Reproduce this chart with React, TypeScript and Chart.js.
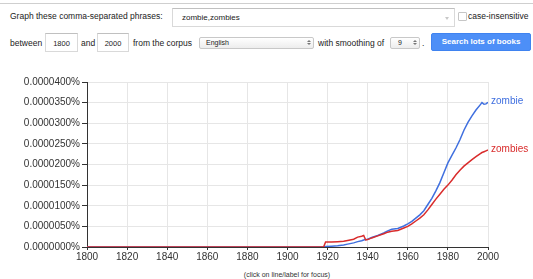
import React, { useEffect, useRef } from "react";
import { Chart, registerables } from "chart.js";

Chart.register(...registerables);

const years = [1800, 1918, 1919, 1922, 1925, 1928, 1930, 1933, 1935, 1937, 1938, 1939, 1940, 1942, 1945, 1948, 1950, 1952, 1955, 1958, 1960, 1962, 1964, 1966, 1968, 1970, 1972, 1974, 1976, 1978, 1980, 1982, 1984, 1986, 1988, 1990, 1992, 1994, 1996, 1997, 1998, 1999, 2000];

const zombieValues = [0, 0, 0.0000001, 0.0000002, 0.0000003, 0.0000005, 0.0000007, 0.000001, 0.0000013, 0.0000015, 0.0000017, 0.0000018, 0.0000019, 0.0000023, 0.0000028, 0.0000034, 0.0000039, 0.0000043, 0.0000045, 0.0000051, 0.0000056, 0.0000062, 0.000007, 0.0000078, 0.0000088, 0.0000103, 0.0000118, 0.0000136, 0.0000156, 0.000018, 0.0000204, 0.0000222, 0.000024, 0.000026, 0.0000283, 0.0000302, 0.0000318, 0.0000332, 0.0000344, 0.000035, 0.0000346, 0.0000347, 0.0000351];

const zombiesValues = [0, 0, 0.0000012, 0.0000012, 0.0000013, 0.0000014, 0.0000016, 0.0000019, 0.0000024, 0.0000026, 0.0000028, 0.0000017, 0.0000018, 0.0000022, 0.0000027, 0.0000032, 0.0000036, 0.0000038, 0.000004, 0.0000046, 0.000005, 0.0000056, 0.0000063, 0.000007, 0.0000078, 0.000009, 0.0000103, 0.0000116, 0.0000128, 0.000014, 0.000015, 0.0000162, 0.0000175, 0.0000186, 0.0000196, 0.0000204, 0.0000212, 0.0000219, 0.0000226, 0.0000229, 0.0000231, 0.0000233, 0.0000235];

const seriesNames = ["zombie", "zombies"];
const seriesColors = ["#3f6fdf", "#d92c2c"];

const yMax = 0.00004;
const yStep = 0.000005;
const xMin = 1800;
const xMax = 2000;
const xStep = 20;

const FONT = "'Liberation Sans', Arial, Helvetica, sans-serif";

const endLabels = {
  id: "endLabels",
  afterDatasetsDraw(chart: any) {
    const ctx = chart.ctx;
    ctx.save();
    ctx.font = `10px ${FONT}`;
    ctx.textBaseline = "middle";
    ctx.textAlign = "left";
    chart.data.datasets.forEach((ds: any, i: number) => {
      const meta = chart.getDatasetMeta(i);
      const last = meta.data[meta.data.length - 1];
      if (!last) return;
      ctx.fillStyle = ds.borderColor;
      ctx.fillText(ds.label, last.x + 3, last.y - 1);
    });
    ctx.restore();
  },
};

function ChartCanvas() {
  const ref = useRef<HTMLCanvasElement>(null);
  useEffect(() => {
    if (!ref.current) return;
    const mk = (vals: number[]) => years.map((y, i) => ({ x: y, y: vals[i] }));
    const chart = new Chart(ref.current, {
      type: "line",
      data: {
        datasets: [
          {
            label: seriesNames[0],
            data: mk(zombieValues),
            borderColor: seriesColors[0],
            backgroundColor: seriesColors[0],
            borderWidth: 1.5,
            pointRadius: 0,
            tension: 0,
            order: 1,
          },
          {
            label: seriesNames[1],
            data: mk(zombiesValues),
            borderColor: seriesColors[1],
            backgroundColor: seriesColors[1],
            borderWidth: 1.5,
            pointRadius: 0,
            tension: 0,
            order: 0,
          },
        ],
      },
      options: {
        animation: false,
        responsive: false,
        devicePixelRatio: 1,
        layout: { padding: { top: 22, right: 45, left: 0, bottom: 0 } },
        plugins: { legend: { display: false }, tooltip: { enabled: false } },
        scales: {
          x: {
            type: "linear",
            min: xMin,
            max: xMax,
            afterFit: (s: any) => {
              s.height = 13;
            },
            ticks: {
              stepSize: xStep,
              color: "#333",
              font: { family: FONT, size: 10 },
              padding: 1,
              maxRotation: 0,
              callback: (v: any) => String(v),
            },
            grid: { color: "#e6e6e6", tickColor: "#333", tickLength: 3, lineWidth: 1 },
            border: { color: "#333", width: 1 },
          },
          y: {
            min: 0,
            max: yMax,
            afterFit: (s: any) => {
              s.width = 87;
            },
            ticks: {
              stepSize: yStep,
              color: "#333",
              font: { family: FONT, size: 10 },
              padding: 2,
              callback: (v: any) => Number(v).toFixed(7) + "%",
            },
            grid: { color: "#e6e6e6", tickColor: "#333", tickLength: 5, lineWidth: 1 },
            border: { color: "#333", width: 1 },
          },
        },
      },
      plugins: [endLabels],
    } as any);
    return () => chart.destroy();
  }, []);
  return <canvas ref={ref} width={533} height={200} style={{ position: "absolute", left: 0, top: 60, width: 533, height: 200 }} />;
}

const txt = (left: number, top: number, s: string, extra: any = {}) => (
  <div style={{ position: "absolute", left, top, fontSize: 8.5, lineHeight: "12px", color: "#222", whiteSpace: "nowrap", ...extra }}>{s}</div>
);

function Arrows({ left, top }: { left: number; top: number }) {
  return (
    <div style={{ position: "absolute", left, top }}>
      <div style={{ width: 0, height: 0, borderLeft: "2px solid transparent", borderRight: "2px solid transparent", borderBottom: "2px solid #777", marginBottom: 1 }} />
      <div style={{ width: 0, height: 0, borderLeft: "2px solid transparent", borderRight: "2px solid transparent", borderTop: "2px solid #777" }} />
    </div>
  );
}

export default function App() {
  const inputStyle: any = {
    position: "absolute",
    boxSizing: "border-box",
    border: "1px solid #d9d9d9",
    borderTop: "1px solid #c0c0c0",
    background: "#fff",
    fontSize: 8,
    color: "#222",
  };
  const selectStyle: any = {
    position: "absolute",
    boxSizing: "border-box",
    border: "1px solid #c8c8c8",
    borderRadius: 2,
    background: "linear-gradient(#ffffff, #ededed)",
    fontSize: 7,
    lineHeight: "10px",
    color: "#222",
  };
  return (
    <div style={{ position: "absolute", left: 0, top: 0, width: 533, height: 279, background: "#fff", fontFamily: FONT, overflow: "hidden" }}>
      <div style={{ position: "absolute", left: 0, top: 3, width: 533, height: 1, background: "#cfcfcf" }} />
      {txt(10, 10, "Graph these comma-separated phrases:")}
      <div style={{ ...inputStyle, left: 172, top: 8, width: 283, height: 19 }}>
        <div style={{ position: "absolute", left: 9, top: 3, lineHeight: "12px", whiteSpace: "nowrap" }}>zombie,zombies</div>
        <div style={{ position: "absolute", left: 272, top: 8, width: 0, height: 0, borderLeft: "2px solid transparent", borderRight: "2px solid transparent", borderTop: "3px solid #c8c8c8" }} />
      </div>
      <div style={{ position: "absolute", left: 458, top: 12, width: 9, height: 9, boxSizing: "border-box", border: "1px solid #c6c6c6", borderRadius: 1, background: "#fff" }} />
      {txt(468, 10, "case-insensitive")}

      {txt(10, 37, "between")}
      <div style={{ ...inputStyle, left: 45, top: 33, width: 33, height: 19, fontSize: 7.5 }}>
        <div style={{ position: "absolute", left: 0, width: 31, top: 4, textAlign: "center", lineHeight: "12px" }}>1800</div>
      </div>
      {txt(81, 37, "and")}
      <div style={{ ...inputStyle, left: 97, top: 33, width: 32, height: 19, fontSize: 7.5 }}>
        <div style={{ position: "absolute", left: 0, width: 30, top: 4, textAlign: "center", lineHeight: "12px" }}>2000</div>
      </div>
      {txt(133, 37, "from the corpus")}
      <div style={{ ...selectStyle, left: 199, top: 37, width: 115, height: 12 }}>
        <div style={{ position: "absolute", left: 6, top: 0 }}>English</div>
        <Arrows left={107} top={2} />
      </div>
      {txt(318, 37, "with smoothing of")}
      <div style={{ ...selectStyle, left: 390, top: 37, width: 30, height: 12 }}>
        <div style={{ position: "absolute", left: 7, top: 0 }}>9</div>
        <Arrows left={22} top={2} />
      </div>
      {txt(422, 37, ".")}
      <div style={{ position: "absolute", left: 431, top: 33, width: 100, height: 18, boxSizing: "border-box", background: "#4d8ff7", border: "1px solid #3f83f0", borderRadius: 2, color: "#fff", fontWeight: "bold", fontSize: 8, lineHeight: "16px", textAlign: "center", whiteSpace: "nowrap" }}>
        Search lots of books
      </div>

      <ChartCanvas />
      {txt(0, 270, "(click on line/label for focus)", { width: 574, textAlign: "center", fontSize: 7, lineHeight: "9px", color: "#333" })}
    </div>
  );
}
